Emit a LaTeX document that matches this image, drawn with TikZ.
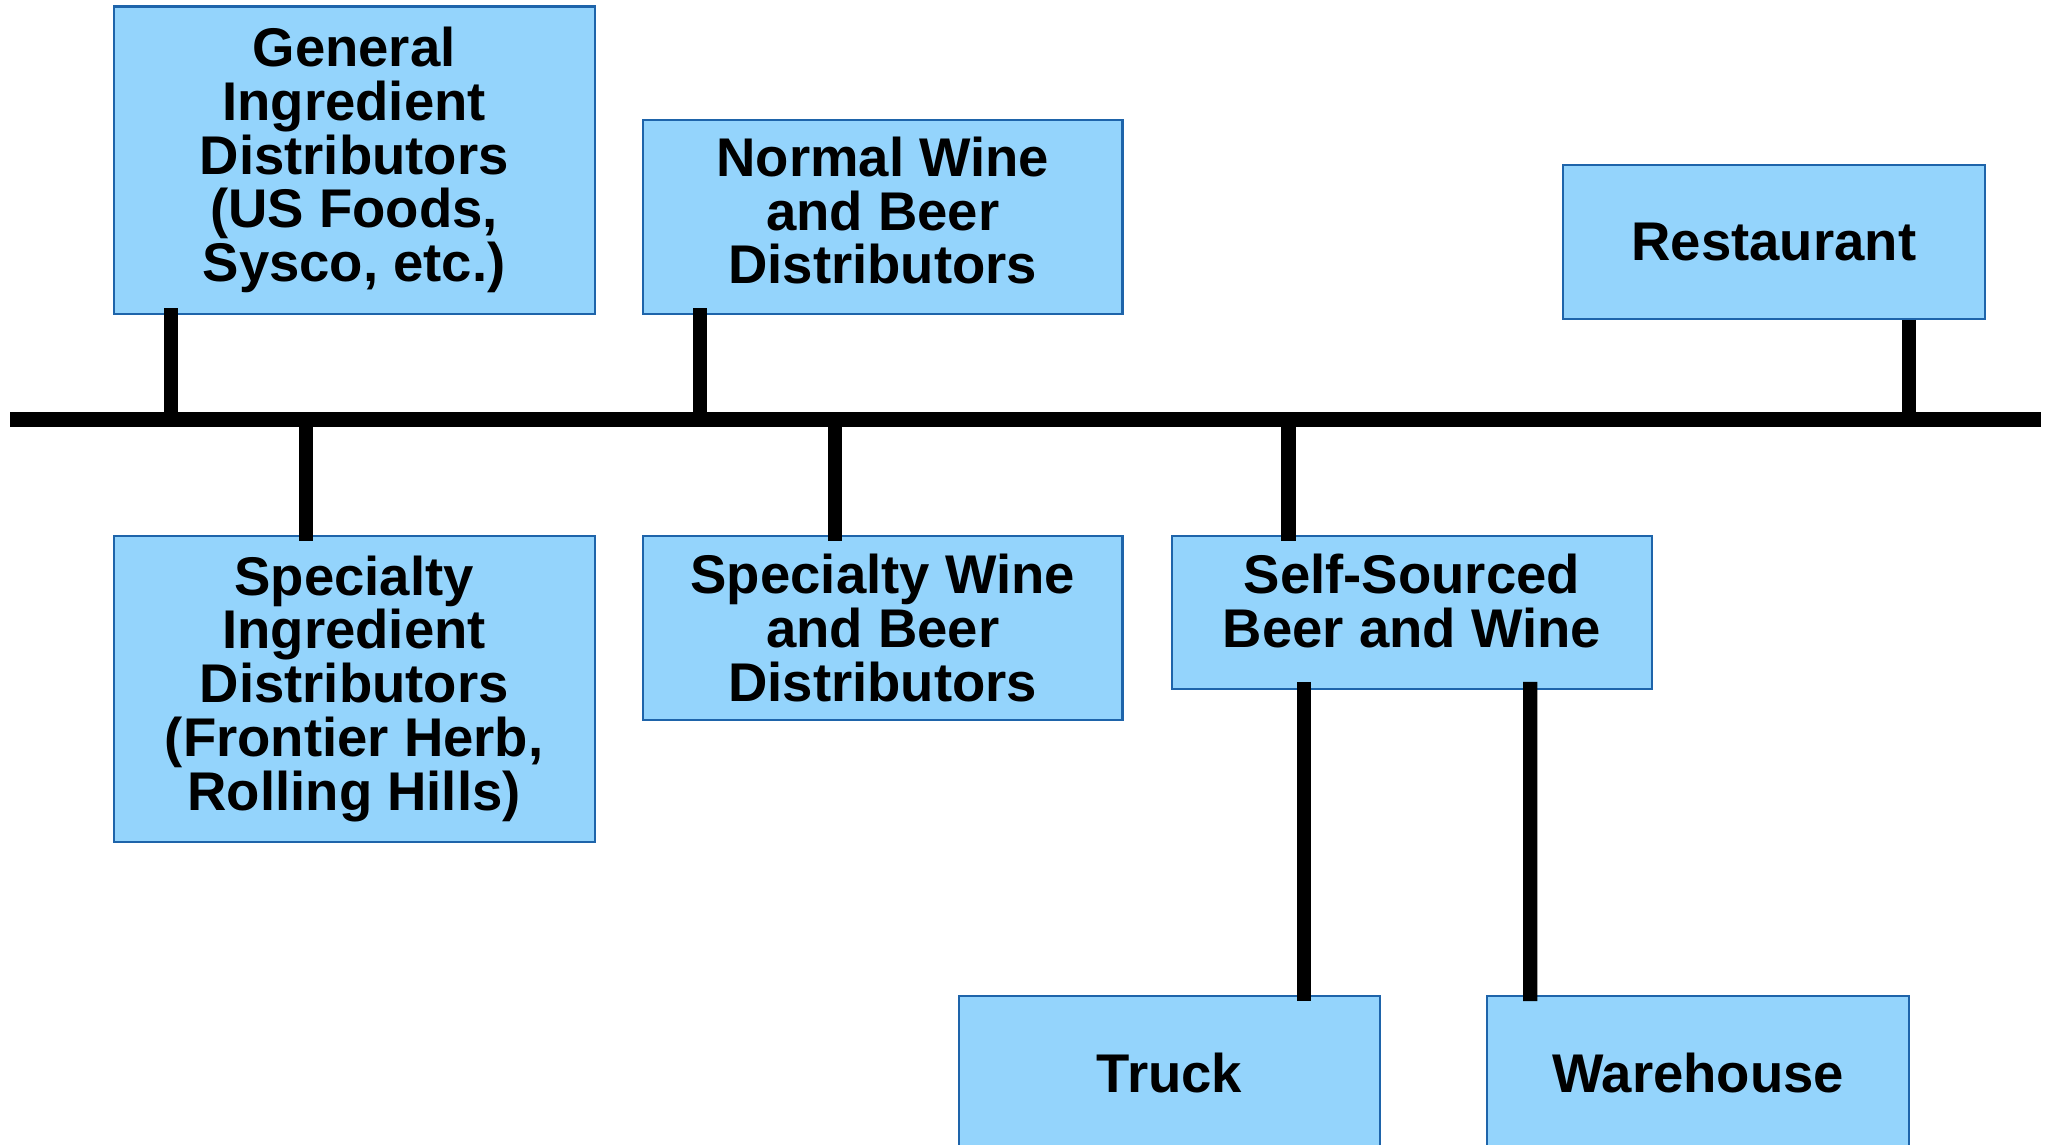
\documentclass[tikz,border=0pt]{standalone}
\usepackage{fontspec}
\setmainfont{Liberation Sans}
\definecolor{boxfill}{RGB}{148,212,252}
\definecolor{boxline}{RGB}{30,100,170}
\begin{document}
\begin{tikzpicture}[x=0.013068cm,y=-0.013068cm,
  box/.style={draw=boxline,fill=boxfill,line width=0.6pt,inner sep=0pt,align=center,
    font=\fontsize{15.5pt}{15.3pt}\selectfont\bfseries},
  link/.style={line width=4pt}]
\useasboundingbox (0,0) rectangle (1568,876);
\clip (0,0) rectangle (1568,876);
\node[box,minimum width={368*0.013068cm},minimum height={235*0.013068cm}] (gen) at (271,122.5) {General\\Ingredient\\Distributors\\(US Foods,\\Sysco, etc.)};
\node[box,text depth={10*0.013068cm},minimum width={367*0.013068cm},minimum height={148*0.013068cm}] (nwb) at (675.5,166) {Normal Wine\\and Beer\\Distributors};
\node[box,minimum width={323*0.013068cm},minimum height={118*0.013068cm}] (rest) at (1357.5,185) {Restaurant};
\node[box,minimum width={368*0.013068cm},minimum height={234*0.013068cm}] (sid) at (271,527) {Specialty\\Ingredient\\Distributors\\(Frontier Herb,\\Rolling Hills)};
\node[box,minimum width={367*0.013068cm},minimum height={141*0.013068cm}] (swb) at (675.5,480.5) {Specialty Wine\\and Beer\\Distributors};
\node[box,text depth={18*0.013068cm},minimum width={367*0.013068cm},minimum height={117*0.013068cm}] (self) at (1080.5,468.5) {Self-Sourced\\Beer and Wine};
\node[box,minimum width={322*0.013068cm},minimum height={118*0.013068cm}] (truck) at (895,821) {Truck};
\node[box,minimum width={323*0.013068cm},minimum height={118*0.013068cm}] (wh) at (1299.5,821) {Warehouse};
% bus
\coordinate (busL) at (8,321);
\coordinate (busR) at (1562,321);
\draw[link] (busL) -- (busR);
\coordinate (bg) at (131,321);
\coordinate (bn) at (536,321);
\coordinate (br) at (1461,321);
\coordinate (bs) at (234,321);
\coordinate (bw) at (639,321);
\coordinate (bf) at (986,321);
\draw[link] ([yshift=5*0.013068cm]bg |- gen.south) -- ([yshift=-4*0.013068cm]bg);
\draw[link] ([yshift=5*0.013068cm]bn |- nwb.south) -- ([yshift=-4*0.013068cm]bn);
\draw[link] (br |- rest.south) -- ([yshift=-4*0.013068cm]br);
\draw[link] ([yshift=4*0.013068cm]bs) -- ([yshift=-5*0.013068cm]bs |- sid.north);
\draw[link] ([yshift=4*0.013068cm]bw) -- ([yshift=-5*0.013068cm]bw |- swb.north);
\draw[link] ([yshift=4*0.013068cm]bf) -- ([yshift=-5*0.013068cm]bf |- self.north);
\draw[link] ([xshift=-82.5*0.013068cm,yshift=6*0.013068cm]self.south) -- ([xshift=103*0.013068cm,yshift=-5*0.013068cm]truck.north);
\draw[link] ([xshift=90.5*0.013068cm,yshift=6*0.013068cm]self.south) -- ([xshift=-128.5*0.013068cm,yshift=-5*0.013068cm]wh.north);
\end{tikzpicture}
\end{document}
